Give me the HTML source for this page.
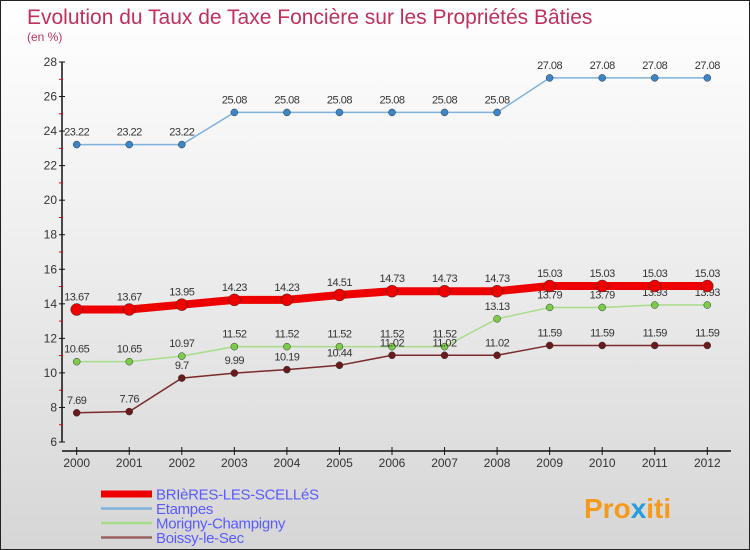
<!DOCTYPE html>
<html><head><meta charset="utf-8"><style>
body{margin:0}
#c{width:750px;height:550px;position:relative;overflow:hidden;box-sizing:border-box;border:1px solid #222;background:linear-gradient(#fff,#f0f0f0 40%,#d6d6d6)}
svg text{font-family:"Liberation Sans","DejaVu Sans",sans-serif}
</style></head><body>
<div id="c">
<svg id="s" width="750" height="550">
<text x="26" y="23" font-size="21" fill="#c0305a">Evolution du Taux de Taxe Foncière sur les Propriétés Bâties</text>
<text x="26" y="40" font-size="12" fill="#c0305a">(en %)</text>
<text x="583" y="517" font-size="28" font-weight="bold" fill="#f49a1c">Pro<tspan fill="#2a9ad8">x</tspan>iti</text>
</svg>
</div>
<script>
const years=[2000,2001,2002,2003,2004,2005,2006,2007,2008,2009,2010,2011,2012];
const yTicks=[6,8,10,12,14,16,18,20,22,24,26,28];
const brieres=[13.67,13.67,13.95,14.23,14.23,14.51,14.73,14.73,14.73,15.03,15.03,15.03,15.03];
const etampes=[23.22,23.22,23.22,25.08,25.08,25.08,25.08,25.08,25.08,27.08,27.08,27.08,27.08];
const morigny=[10.65,10.65,10.97,11.52,11.52,11.52,11.52,11.52,13.13,13.79,13.79,13.93,13.93];
const boissy=[7.69,7.76,9.7,9.99,10.19,10.44,11.02,11.02,11.02,11.59,11.59,11.59,11.59];
const seriesNames=["BRIèRES-LES-SCELLéS","Etampes","Morigny-Champigny","Boissy-le-Sec"];
const svg=document.getElementById('s');const NS='http://www.w3.org/2000/svg';
function X(i){return 75.7+i*52.55}
function Y(v){return 441-(v-6)*380/22}
function mk(t,a,p){const e=document.createElementNS(NS,t);for(const k in a)e.setAttribute(k,a[k]);(p||svg).appendChild(e);return e}
function fmt(v){return String(v)}
let ax=mk('line',{x1:61,y1:Y(28),x2:61,y2:Y(6),stroke:'#111','stroke-width':1.5});

let xa=mk('line',{x1:61,y1:450,x2:730,y2:450,stroke:'#111','stroke-width':1.5});

yTicks.forEach(v=>{mk('line',{x1:58,y1:Y(v),x2:64,y2:Y(v),stroke:'#111'});
 if(v<28)mk('line',{x1:58,y1:Y(v+1),x2:62,y2:Y(v+1),stroke:'#e00'});
 const t=mk('text',{x:56,y:Y(v)+4,'font-size':12,fill:'#333','text-anchor':'end'});t.textContent=v;
 });
years.forEach((y,i)=>{mk('line',{x1:X(i),y1:446,x2:X(i),y2:454,stroke:'#111'});
 const t=mk('text',{x:X(i),y:466,'font-size':12,fill:'#333','text-anchor':'middle'});t.textContent=y;
 });
function series(vals,color,w,r,dot,name){
 const g=mk('g',{});
 mk('polyline',{points:vals.map((v,i)=>X(i)+','+Y(v)).join(' '),fill:'none',stroke:color,'stroke-width':w},g);
 vals.forEach((v,i)=>{const c=mk('circle',{cx:X(i),cy:Y(v),r:r,fill:dot,stroke:'#333','stroke-width':0.5},g);
  
  const t=mk('text',{x:X(i),y:Y(v)-9,'font-size':11,fill:'#333','text-anchor':'middle','letter-spacing':'-0.5'},g);t.textContent=fmt(v);});
}
series(etampes,'#7fb2dc',1.5,3.5,'#3a86c8','etampes-series');
series(morigny,'#a6dd88',1.5,3.5,'#7ccc4a','morigny-series');
series(boissy,'#7a2a2a',1.5,3.5,'#6a1a1a','boissy-series');
series(brieres,'#ee0000',8,6,'#ee0000','brieres-series');
const lc=['#ee0000','#7fb2dc','#a6dd88','#9a6060'],lw=[7,2.5,2.5,2.5];
seriesNames.forEach((n,i)=>{const yy=493+i*14.5;
 const l=mk('line',{x1:100,y1:yy,x2:151,y2:yy,stroke:lc[i],'stroke-width':lw[i]});
 
 const t=mk('text',{x:155,y:yy+5.5,'font-size':15,fill:'#5a5aff','letter-spacing':'-0.3'});t.textContent=n;
 });
</script>
</body></html>
